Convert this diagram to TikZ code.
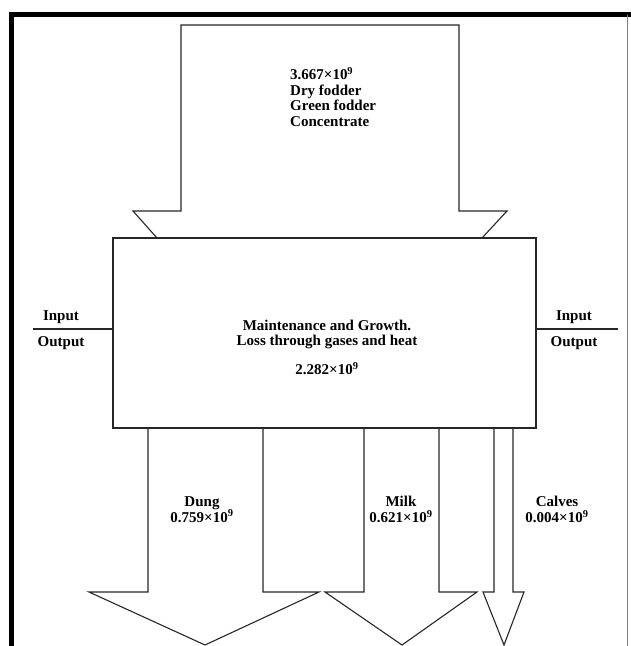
\documentclass[tikz,border=0pt]{standalone}
\usepackage{fontspec}
\setmainfont{Liberation Serif}
\usepackage{tikz}
\usetikzlibrary{positioning}

\begin{document}
\begin{tikzpicture}[x=1pt,y=-1pt,
  every node/.style={font=\bfseries\fontsize{15}{15.5}\selectfont,inner sep=0pt},
  flow/.style={line width=1.1pt,black!85,line join=miter}]
\useasboundingbox (0,0) rectangle (630,646);
\draw [line width=4.5pt] (11.5,650) -- (11.5,14.5) -- (632,14.5);
\draw [line width=1pt,black!50] (627,14.5) -- (627,650);
\draw [flow] (157,238) -- (133,211) -- (181,211) -- (181,25) -- (459,25) -- (459,211) -- (507,211) -- (482,238);
\node [draw,flow,minimum width=423pt,minimum height=190pt] (body) at (324.5,333) {};
\node [anchor=north west,align=left] (feed) at (290,67.5) {3.667×10\textsuperscript{9}\\Dry fodder\\Green fodder\\Concentrate};
\node [align=center] (upkeep) at (327,334.5) {Maintenance and Growth.\\Loss through gases and heat};
\node (upkeepval) at (327,369) {2.282×10\textsuperscript{9}};
\coordinate (sideL) at (33,329);
\coordinate (sideR) at (618,329);
\draw [flow] (body.west |- sideL) -- (sideL);
\draw [flow] (body.east |- sideR) -- (sideR);
\node (inL) at (61,317) {Input};
\node (outL) at (61,343) {Output};
\node (inR) at (574,317) {Input};
\node (outR) at (574,343) {Output};
\draw [flow] (148,428) -- (148,592) -- (89,592) -- (205,645) -- (319,592) -- (263,592) -- (263,428);
\draw [flow] (364,428) -- (364,592) -- (325,592) -- (402,645) -- (477,592) -- (439,592) -- (439,428);
\draw [flow] (494,428) -- (494,592) -- (483,592) -- (504,645) -- (524,592) -- (513,592) -- (513,428);
\node [align=center] (dung) at (202,509.5) {Dung\\0.759×10\textsuperscript{9}};
\node [align=center] (milk) at (401,509.5) {Milk\\0.621×10\textsuperscript{9}};
\node [align=center] (calves) at (557,509.5) {Calves\\0.004×10\textsuperscript{9}};
\end{tikzpicture}
\end{document}
